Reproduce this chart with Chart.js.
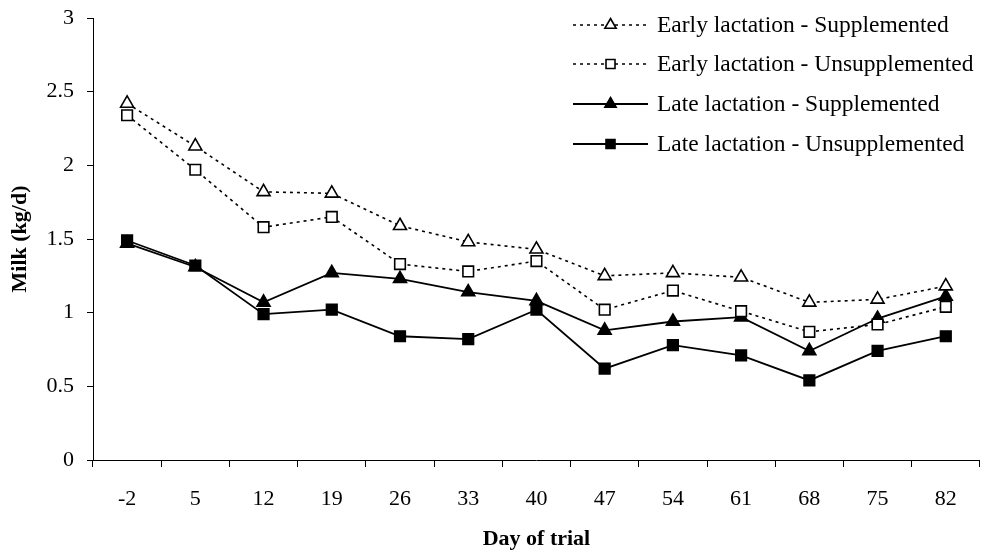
<!DOCTYPE html>
<html>
<head>
<meta charset="utf-8">
<script src="https://cdn.jsdelivr.net/npm/chart.js@4.4.0/dist/chart.umd.min.js"></script>
<style>
html,body{margin:0;padding:0;background:#fff;}
#wrap{width:989px;height:553px;position:relative;}
</style>
</head>
<body>
<div id="wrap"><canvas id="c" width="989" height="553"></canvas></div>
<script>
const days = ['-2','5','12','19','26','33','40','47','54','61','68','75','82'];
const earlySupp   = [2.42,2.13,1.82,1.81,1.59,1.48,1.43,1.25,1.27,1.24,1.07,1.09,1.18];
const earlyUnsupp = [2.34,1.97,1.58,1.65,1.33,1.28,1.35,1.02,1.15,1.01,0.87,0.92,1.04];
const lateSupp    = [1.47,1.31,1.07,1.27,1.23,1.14,1.08,0.88,0.94,0.97,0.74,0.96,1.11];
const lateUnsupp  = [1.49,1.32,0.99,1.02,0.84,0.82,1.02,0.62,0.78,0.71,0.54,0.74,0.84];
const seriesNames = ['Early lactation - Supplemented','Early lactation - Unsupplemented','Late lactation - Supplemented','Late lactation - Unsupplemented'];
const yTicks = [0,0.5,1,1.5,2,2.5,3];

const FONT = '"Liberation Serif", "Times New Roman", serif';
const dotted = [3,4];

function mk(label, data, dash, style, fill, radius, width){
  return {
    label, data,
    borderColor:'#000', borderWidth:width, borderDash:dash,
    pointStyle:style, pointRadius:radius, pointHoverRadius:radius,
    pointBackgroundColor: fill ? '#000' : '#fff',
    pointBorderColor:'#000', pointBorderWidth:1.6,
    tension:0, fill:false
  };
}

const datasets = [
  mk(seriesNames[0], earlySupp, dotted, 'triangle', false, 7.5, 1.6),
  mk(seriesNames[1], earlyUnsupp, dotted, 'rect', false, 7.5, 1.6),
  mk(seriesNames[2], lateSupp, [], 'triangle', true, 7.5, 1.8),
  mk(seriesNames[3], lateUnsupp, [], 'rect', true, 7.5, 1.8)
];

const legendPlugin = {
  id:'customLegend',
  afterDraw(chart){
    const ctx = chart.ctx;
    const x0 = 573, x1 = 648, tx = 657;
    const ys = [25, 64, 104, 144];
    ctx.save();
    chart.data.datasets.forEach((ds,i)=>{
      const y = ys[i];
      ctx.strokeStyle = '#000';
      ctx.lineWidth = ds.borderWidth;
      ctx.setLineDash(ds.borderDash);
      ctx.beginPath(); ctx.moveTo(x0,y); ctx.lineTo(x1,y); ctx.stroke();
      ctx.setLineDash([]);
      const cx = (x0+x1)/2;
      ctx.fillStyle = ds.pointBackgroundColor;
      ctx.strokeStyle = '#000';
      ctx.lineWidth = 1.6;
      ctx.beginPath();
      if (ds.pointStyle==='triangle'){
        const r=6.5;
        ctx.moveTo(cx, y - r); ctx.lineTo(cx + r*0.87, y + r*0.5); ctx.lineTo(cx - r*0.87, y + r*0.5); ctx.closePath();
      } else {
        ctx.rect(cx-4.5, y-4.5, 9, 9);
      }
      ctx.fill(); ctx.stroke();
      ctx.fillStyle = '#000';
      ctx.font = '23.5px ' + FONT;
      ctx.textBaseline = 'middle';
      ctx.textAlign = 'left';
      ctx.fillText(ds.label, tx, y+1);
    });
    ctx.restore();
  }
};

new Chart(document.getElementById('c'), {
  type:'line',
  data:{labels:days, datasets},
  options:{
    responsive:false, animation:false,
    devicePixelRatio:1,
    layout:{padding:{top:18,right:4,bottom:0,left:0}},
    plugins:{legend:{display:false}, tooltip:{enabled:false}},
    scales:{
      x:{
        offset:true,
        grid:{offset:true, drawOnChartArea:false, drawTicks:true, tickLength:7, color:'#000', lineWidth:1},
        border:{color:'#000', width:1},
        ticks:{font:{family:FONT, size:22}, color:'#000', padding:19, maxRotation:0, autoSkip:false},
        title:{display:true, text:'Day of trial', font:{family:FONT, size:22, weight:'bold'}, color:'#000', padding:{top:4,bottom:0}},
        afterFit(s){ s.height = 93; s.paddingLeft = 0; s.paddingRight = 0; }
      },
      y:{
        min:0, max:3,
        afterBuildTicks(s){ s.ticks = yTicks.map(v=>({value:v})); },
        grid:{drawOnChartArea:false, drawTicks:true, tickLength:6, color:'#000', lineWidth:1},
        border:{color:'#000', width:1},
        ticks:{font:{family:FONT, size:22}, color:'#000', padding:13, callback:(v)=>String(v)},
        title:{display:true, text:'Milk (kg/d)', font:{family:FONT, size:22, weight:'bold'}, color:'#000', padding:{top:7,bottom:4}},
        afterFit(s){ s.width = 93; s.paddingTop = 0; s.paddingBottom = 0; }
      }
    }
  },
  plugins:[legendPlugin]
});
</script>
</body>
</html>
